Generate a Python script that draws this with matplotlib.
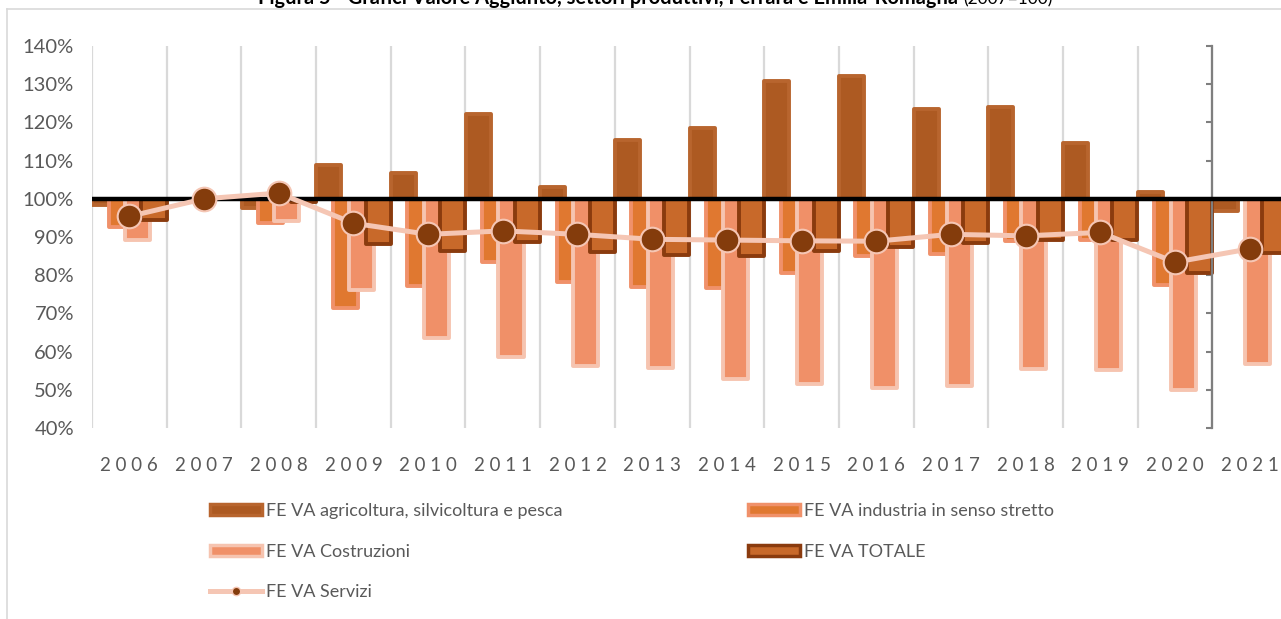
import numpy as np
import matplotlib.pyplot as plt
from matplotlib.patches import Patch
from matplotlib.lines import Line2D

W, H = 1281, 619

anni = ['2006', '2007', '2008', '2009', '2010', '2011', '2012', '2013',
        '2014', '2015', '2016', '2017', '2018', '2019', '2020', '2021']
agricoltura = [98.4, 100, 97.5, 108.8, 106.8, 122.3, 103.0, 115.5,
               118.6, 130.8, 132.1, 123.4, 124.1, 114.7, 101.8, 96.7]
industria = [92.5, 100, 93.6, 71.4, 77.2, 83.4, 78.1, 77.0,
             76.6, 80.6, 84.9, 85.5, 89.0, 89.1, 77.5, np.nan]
costruzioni = [89.3, 100, 94.3, 76.0, 63.5, 58.7, 56.1, 55.7,
               52.9, 51.6, 50.5, 50.9, 55.5, 55.2, 50.0, 56.7]
totale = [94.5, 100, 99.1, 88.1, 86.4, 88.7, 86.1, 85.3,
          85.1, 86.4, 87.3, 88.3, 89.1, 89.3, 80.7, 85.8]
servizi = [95.4, 100, 101.5, 93.6, 90.7, 91.6, 90.7, 89.4,
           89.2, 89.0, 88.9, 90.7, 90.3, 91.2, 83.4, 86.9]
y_ticks = [40, 50, 60, 70, 80, 90, 100, 110, 120, 130, 140]

grey_txt = '#595959'
grid_c = '#D9D9D9'
plt.rcParams['font.family'] = ['Lato', 'DejaVu Sans']

fig = plt.figure(figsize=(W / 100, H / 100), dpi=100)
ax = fig.add_axes([92 / W, 1 - 428 / H, 1195 / W, 382 / H])

x = np.arange(len(anni))
bw = 0.335
series = [
    (agricoltura, -0.33, '#AD5A22', '#B8652E', 'FE VA agricoltura, silvicoltura e pesca'),
    (industria, -0.11, '#E07830', '#F0916A', 'FE VA industria in senso stretto'),
    (costruzioni, 0.11, '#F09068', '#F6C4B0', 'FE VA Costruzioni'),
    (totale, 0.33, '#C8692A', '#8A3B0E', 'FE VA TOTALE'),
]
handles = {}
for vals, off, fc, ec, lab in series:
    v = np.array(vals, dtype=float)
    ok = ~np.isnan(v)
    ax.bar(x[ok] + off, v[ok] - 100, bottom=100, width=bw, color=fc,
           edgecolor=ec, linewidth=2.8, joinstyle='round', zorder=2)
    handles[lab] = Patch(facecolor=fc, edgecolor=ec, linewidth=2.5, label=lab)

ax.vlines(np.arange(len(anni)) - 0.5, 40, 140, color=grid_c, lw=1.6, zorder=1)
ax.axhline(100, color='black', lw=3.2, zorder=3)

ax.plot(x, servizi, color='#F5C6B4', lw=3.6, marker='o', markersize=17,
        markerfacecolor='#843C0C', markeredgecolor='#F5C6B4',
        markeredgewidth=1.5, zorder=4)
handles['FE VA Servizi'] = Line2D([], [], color='#F5C6B4', lw=3.6, marker='o',
                                  markersize=6, markerfacecolor='#843C0C',
                                  markeredgecolor='#F5C6B4', label='FE VA Servizi')

ax.set_xlim(-0.5, 15.5)
ax.set_ylim(40, 140)
ax.set_yticks(y_ticks)
ax.set_yticklabels([f'{t}%' for t in y_ticks])
ax.set_xticks(x)
ax.set_xticklabels([' '.join(a) for a in anni])
ax.tick_params(axis='x', length=0, pad=21, labelsize=13.5, labelcolor=grey_txt)
ax.tick_params(axis='y', left=False, right=True, labelleft=True, labelright=False,
               direction='in', length=4, width=1.5, color='#7F7F7F', pad=13,
               labelsize=14.5, labelcolor=grey_txt)
for s in ['top', 'bottom', 'left']:
    ax.spines[s].set_visible(False)
ax.spines['right'].set_position(('data', 14.5))
ax.spines['right'].set_color('#7F7F7F')
ax.spines['right'].set_linewidth(1.6)

order = ['FE VA agricoltura, silvicoltura e pesca', 'FE VA Costruzioni', 'FE VA Servizi',
         'FE VA industria in senso stretto', 'FE VA TOTALE']
fig.legend([handles[k] for k in order], order, loc='upper left',
           bbox_to_anchor=(210 / W, 1 - 503 / H), ncol=2, frameon=False,
           prop={'size': 13}, labelcolor=grey_txt,
           handlelength=2.9, handleheight=0.6, handletextpad=0.2,
           labelspacing=1.37, columnspacing=10.25, borderpad=0, borderaxespad=0)

# chart frame
fig.add_artist(Line2D([7 / W, 7 / W], [0, 1 - 9 / H], transform=fig.transFigure,
                      color=grid_c, lw=1.2))
fig.add_artist(Line2D([7 / W, 1], [1 - 9 / H, 1 - 9 / H], transform=fig.transFigure,
                      color=grid_c, lw=1.2))

# title (clipped at the top edge)
fig.text(958 / W, 1 - 4 / H,
         'Figura 5 - Grafici Valore Aggiunto, settori produttivi, Ferrara e Emilia-Romagna',
         ha='right', va='baseline', fontsize=14.4, fontweight='bold')
fig.text(963 / W, 1 - 4 / H, '(2007=100)', ha='left', va='baseline', fontsize=12.5)

fig.savefig('out.png', dpi=100)
